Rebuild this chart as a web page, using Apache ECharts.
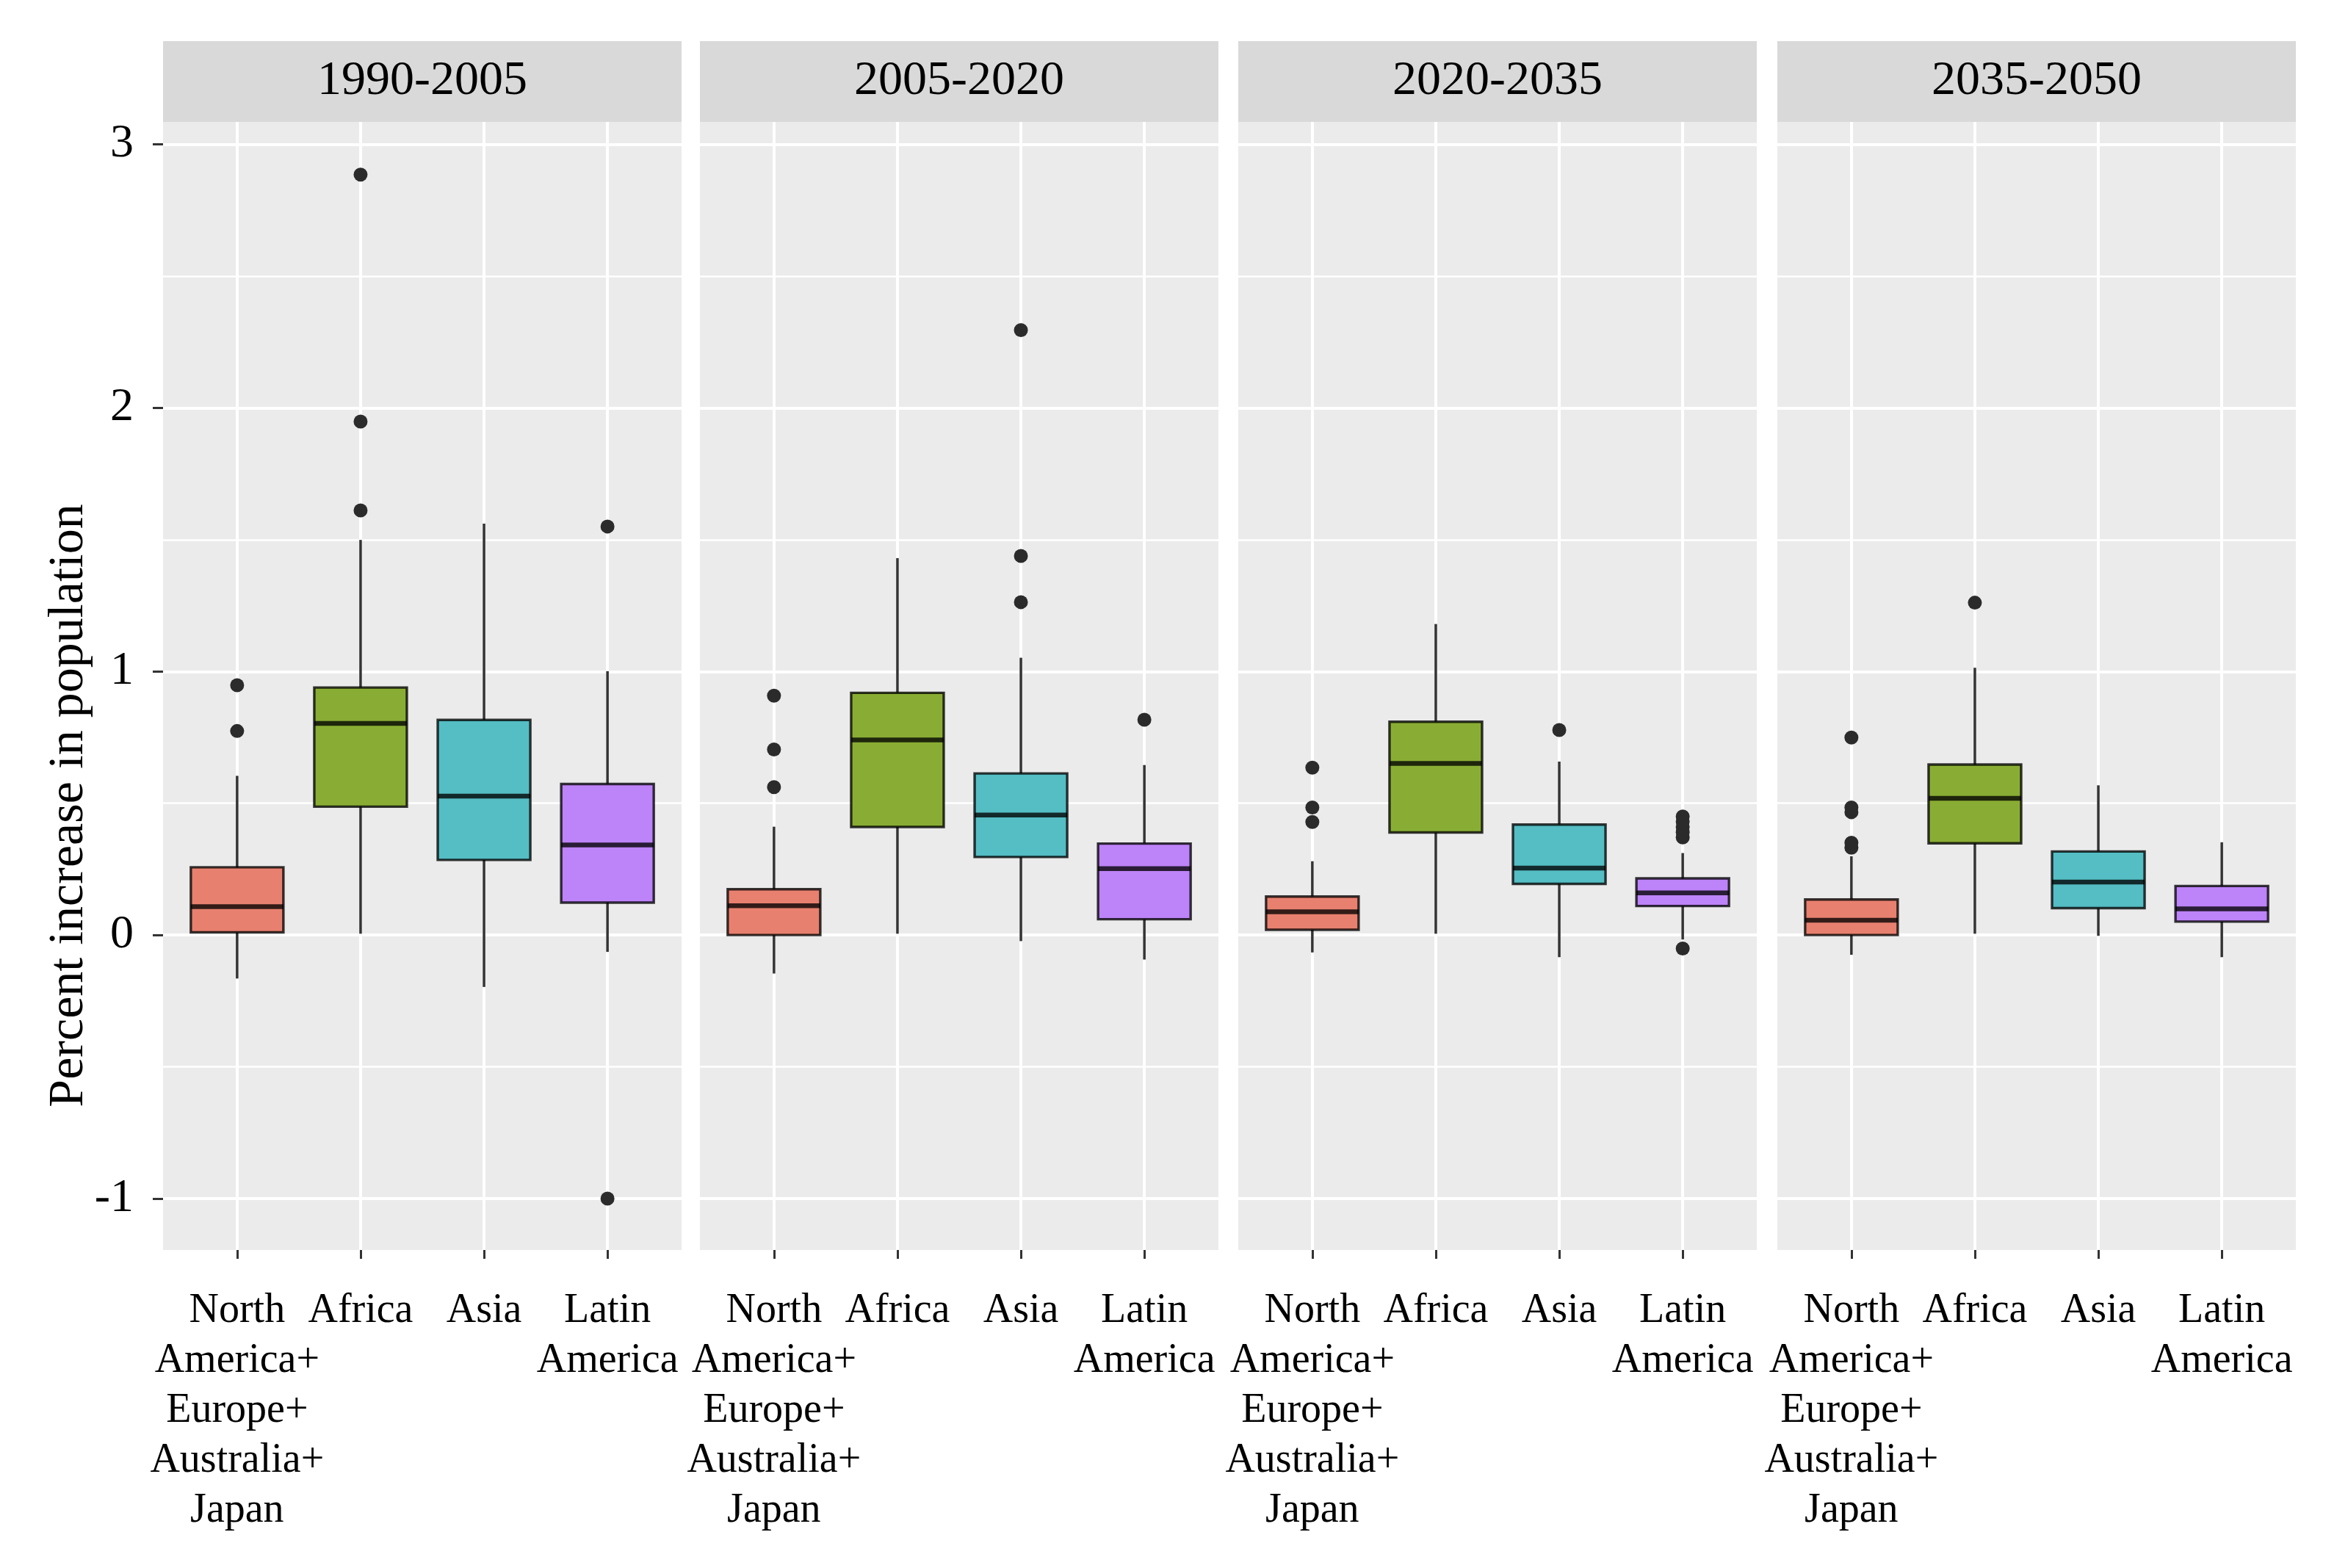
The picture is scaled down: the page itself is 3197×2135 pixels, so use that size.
<!DOCTYPE html>
<html>
<head>
<meta charset="utf-8">
<style>
  html, body { margin: 0; padding: 0; background: #fff; }
  #chart { width: 3197px; height: 2135px; }
</style>
<script src="https://cdn.jsdelivr.net/npm/echarts@6/dist/echarts.min.js"></script>
</head>
<body>
<div id="chart"></div>
<script>
// facets and regions
var periods = ['1990-2005', '2005-2020', '2020-2035', '2035-2050'];
var regions = ['North\nAmerica+\nEurope+\nAustralia+\nJapan', 'Africa', 'Asia', 'Latin\nAmerica'];

// boxes: [low whisker, Q1, median, Q3, high whisker], one row per region
var box1990 = [[-0.165, 0.01, 0.108, 0.257, 0.604], [0.005, 0.487, 0.803, 0.939, 1.499], [-0.197, 0.285, 0.527, 0.816, 1.561], [-0.064, 0.123, 0.342, 0.573, 1.001]];
var box2005 = [[-0.146, 0.0, 0.111, 0.174, 0.411], [0.005, 0.41, 0.74, 0.919, 1.43], [-0.023, 0.296, 0.455, 0.613, 1.052], [-0.093, 0.06, 0.252, 0.347, 0.645]];
var box2020 = [[-0.066, 0.02, 0.088, 0.146, 0.28], [0.005, 0.389, 0.651, 0.809, 1.18], [-0.084, 0.194, 0.254, 0.419, 0.658], [-0.017, 0.11, 0.16, 0.215, 0.311]];
var box2035 = [[-0.075, 0.0, 0.056, 0.135, 0.299], [0.005, 0.348, 0.519, 0.647, 1.014], [-0.003, 0.102, 0.201, 0.317, 0.568], [-0.084, 0.051, 0.099, 0.186, 0.352]];

// outliers: [region index, value]
var out1990 = [[0, 0.774], [0, 0.948], [1, 1.611], [1, 1.948], [1, 2.885], [3, 1.55], [3, -1.0]];
var out2005 = [[0, 0.561], [0, 0.704], [0, 0.908], [2, 1.263], [2, 1.438], [2, 2.295], [3, 0.817]];
var out2020 = [[0, 0.429], [0, 0.484], [0, 0.635], [2, 0.778], [3, -0.051], [3, 0.37], [3, 0.39], [3, 0.41], [3, 0.43], [3, 0.45]];
var out2035 = [[0, 0.331], [0, 0.35], [0, 0.466], [0, 0.484], [0, 0.749], [1, 1.261]];

var boxes = [box1990, box2005, box2020, box2035];
var outliers = [out1990, out2005, out2020, out2035];

var fills = ['#E8806F', '#89AD34', '#55BDC4', '#BD83F8'];
var font = 'Liberation Serif';

// layout
var panelLeft = [222, 953, 1686, 2420];
var panelW = 706;
var panelTop = 166;
var panelH = 1536;
var stripH = 110;
var band = panelW / 4.2;
var yMin = -1.195, yMax = 3.085;

var grids = [], xAxes = [], yAxes = [], series = [], graphics = [];

for (var i = 0; i < periods.length; i++) {
    // background panel
    grids.push({
        left: panelLeft[i], top: panelTop, width: panelW, height: panelH,
        show: true, backgroundColor: '#EBEBEB', borderWidth: 0, outerBoundsMode: 'none'
    });
    // inner grid with the 0.6-category expansion on each side
    grids.push({
        left: panelLeft[i] + band * 0.1, top: panelTop, width: band * 4, height: panelH,
        show: false, outerBoundsMode: 'none'
    });

    xAxes.push({ type: 'value', gridIndex: 2 * i, show: false });
    xAxes.push({
        type: 'category', gridIndex: 2 * i + 1, data: regions, position: 'bottom',
        axisLine: { show: false, onZero: false },
        axisTick: { show: true, alignWithLabel: true, length: 12, lineStyle: { color: '#333', width: 3 } },
        axisLabel: {
            interval: 0, margin: 49, color: '#000', fontFamily: font, fontSize: 56,
            lineHeight: 68, align: 'center'
        },
        splitLine: { show: true, alignWithLabel: true, lineStyle: { color: '#fff', width: 4 } }
    });

    // minor grid lines
    yAxes.push({
        type: 'value', gridIndex: 2 * i, position: 'left', min: yMin, max: yMax, splitNumber: 9,
        axisLine: { show: false }, axisTick: { show: false }, axisLabel: { show: false },
        splitLine: { show: true, showMinLine: false, showMaxLine: false, lineStyle: { color: '#fff', width: 2.5 } }
    });
    // major grid lines + labels on first panel
    yAxes.push({
        type: 'value', gridIndex: 2 * i, position: 'left', min: yMin, max: yMax, splitNumber: 5,
        axisLine: { show: false },
        axisTick: { show: i === 0, length: 14, lineStyle: { color: '#333', width: 3 } },
        axisLabel: {
            show: i === 0, showMinLabel: false, showMaxLabel: false, margin: 40,
            color: '#000', fontFamily: font, fontSize: 64
        },
        splitLine: { show: true, showMinLine: false, showMaxLine: false, lineStyle: { color: '#fff', width: 4 } }
    });
    yAxes.push({ type: 'value', gridIndex: 2 * i + 1, position: 'left', min: yMin, max: yMax, show: false });

    var boxData = boxes[i].map(function (b, k) { return [k].concat(b); });
    series.push({
        type: 'custom',
        xAxisIndex: 2 * i + 1, yAxisIndex: 3 * i + 2,
        encode: { x: 0, y: [1, 2, 3, 4, 5] },
        data: boxData,
        renderItem: function (params, api) {
            var c = api.value(0);
            var pLow = api.coord([c, api.value(1)]);
            var pQ1 = api.coord([c, api.value(2)]);
            var pMed = api.coord([c, api.value(3)]);
            var pQ3 = api.coord([c, api.value(4)]);
            var pHigh = api.coord([c, api.value(5)]);
            var w = api.size([1, 0])[0] * 0.75;
            var x = pMed[0];
            return {
                type: 'group',
                children: [
                    { type: 'line', shape: { x1: x, y1: pQ1[1], x2: x, y2: pLow[1] }, style: { stroke: '#333', lineWidth: 3.5 } },
                    { type: 'line', shape: { x1: x, y1: pQ3[1], x2: x, y2: pHigh[1] }, style: { stroke: '#333', lineWidth: 3.5 } },
                    { type: 'rect', shape: { x: x - w / 2, y: pQ3[1], width: w, height: pQ1[1] - pQ3[1] }, style: { fill: fills[c], stroke: 'rgba(0,0,0,0.78)', lineWidth: 3.4 } },
                    { type: 'line', shape: { x1: x - w / 2, y1: pMed[1], x2: x + w / 2, y2: pMed[1] }, style: { stroke: 'rgba(0,0,0,0.78)', lineWidth: 6.5 } }
                ]
            };
        }
    });
    series.push({
        type: 'scatter',
        xAxisIndex: 2 * i + 1, yAxisIndex: 3 * i + 2,
        data: outliers[i],
        symbolSize: 19,
        itemStyle: { color: '#2b2b2b', opacity: 1 },
        z: 3
    });

    // facet strip
    graphics.push({
        type: 'rect',
        shape: { x: panelLeft[i], y: panelTop - stripH, width: panelW, height: stripH },
        style: { fill: '#D9D9D9' }
    });
    graphics.push({
        type: 'text',
        x: panelLeft[i] + panelW / 2, y: panelTop - stripH / 2,
        style: {
            text: periods[i], fill: '#000', font: '66px "' + font + '"',
            textAlign: 'center', textVerticalAlign: 'middle'
        }
    });
}

// y-axis title
graphics.push({
    type: 'text',
    x: 94, y: 1097, rotation: Math.PI / 2,
    style: {
        text: 'Percent increase in population', fill: '#000', font: '68px "' + font + '"',
        textAlign: 'center', textVerticalAlign: 'middle'
    }
});

var chart = echarts.init(document.getElementById('chart'));
chart.setOption({
    backgroundColor: '#fff',
    animation: false,
    grid: grids,
    xAxis: xAxes,
    yAxis: yAxes,
    series: series,
    graphic: graphics
});
</script>
</body>
</html>
